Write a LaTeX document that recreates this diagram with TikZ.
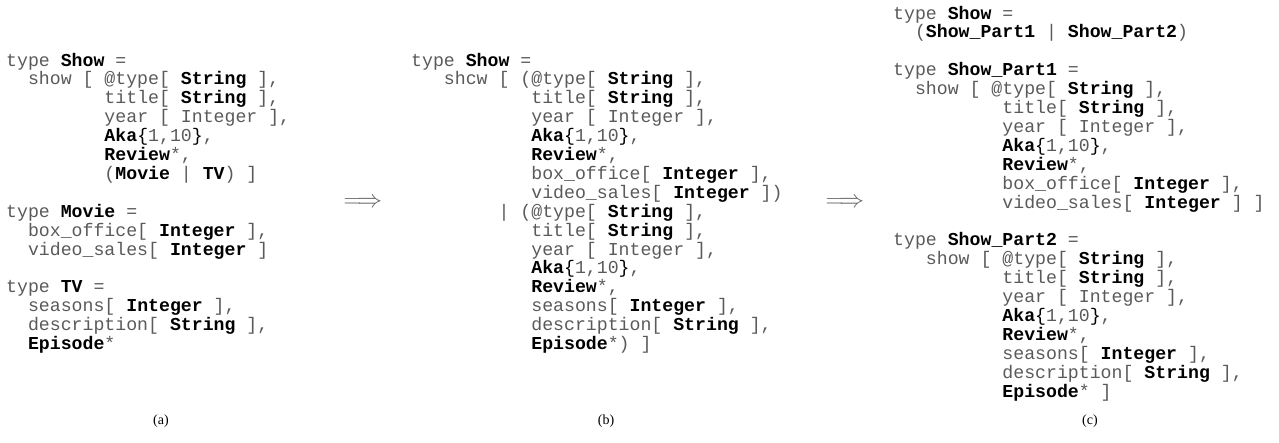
\documentclass[tikz,border=0pt]{standalone}
\usepackage{fontspec}
\setmainfont{Liberation Serif}
\setmonofont{Liberation Mono}
\usepackage{xcolor}

\definecolor{codegray}{HTML}{5A5A5A}
\newcommand{\kw}[1]{\textcolor{black}{\textbf{#1}}}
\newcommand{\br}[1]{\textcolor{black}{#1}}
\newcommand{\ind}[1]{\hspace*{#1\fontcharwd\font`x}}

\begin{document}
\begin{tikzpicture}[x=1pt,y=-1pt,
    code/.style={anchor=base west, inner sep=0pt, align=left, text=codegray,
      font=\ttfamily\fontsize{18.2}{18.9}\selectfont},
    caption/.style={inner sep=0pt, font=\fontsize{14}{16}\selectfont},
    trans/.style={inner sep=0pt, text=black!60, font=\fontsize{23}{24}\selectfont}]
  \useasboundingbox (0,0) rectangle (1279,442);

  % (a) original schema (base = last line)
  \node[code] (schemaA) at (6,349.5) {type \kw{Show} =\\
    \ind{2}show [ @type[ \kw{String} ],\\
    \ind{9}title[ \kw{String} ],\\
    \ind{9}year [ Integer ],\\
    \ind{9}\kw{Aka}\br{\{}1,10\br{\}},\\
    \ind{9}\kw{Review}*,\\
    \ind{9}(\kw{Movie} | \kw{TV}) ]\\
    \mbox{}\\
    type \kw{Movie} =\\
    \ind{2}box\_office[ \kw{Integer} ],\\
    \ind{2}video\_sales[ \kw{Integer} ]\\
    \mbox{}\\
    type \kw{TV} =\\
    \ind{2}seasons[ \kw{Integer} ],\\
    \ind{2}description[ \kw{String} ],\\
    \ind{2}\kw{Episode}*};

  % (b) union distributed
  \node[code] (schemaB) at (411,349.5) {type \kw{Show} =\\
    \ind{3}shcw [ (@type[ \kw{String} ],\\
    \ind{11}title[ \kw{String} ],\\
    \ind{11}year [ Integer ],\\
    \ind{11}\kw{Aka}\br{\{}1,10\br{\}},\\
    \ind{11}\kw{Review}*,\\
    \ind{11}box\_office[ \kw{Integer} ],\\
    \ind{11}video\_sales[ \kw{Integer} ])\\
    \ind{8}| (@type[ \kw{String} ],\\
    \ind{11}title[ \kw{String} ],\\
    \ind{11}year [ Integer ],\\
    \ind{11}\kw{Aka}\br{\{}1,10\br{\}},\\
    \ind{11}\kw{Review}*,\\
    \ind{11}seasons[ \kw{Integer} ],\\
    \ind{11}description[ \kw{String} ],\\
    \ind{11}\kw{Episode}*) ]};

  % (c) split into two types
  \node[code] (schemaC) at (893,397) {type \kw{Show} =\\
    \ind{2}(\kw{Show\_Part1} | \kw{Show\_Part2})\\
    \mbox{}\\
    type \kw{Show\_Part1} =\\
    \ind{2}show [ @type[ \kw{String} ],\\
    \ind{10}title[ \kw{String} ],\\
    \ind{10}year [ Integer ],\\
    \ind{10}\kw{Aka}\br{\{}1,10\br{\}},\\
    \ind{10}\kw{Review}*,\\
    \ind{10}box\_office[ \kw{Integer} ],\\
    \ind{10}video\_sales[ \kw{Integer} ] ]\\
    \mbox{}\\
    type \kw{Show\_Part2} =\\
    \ind{3}show [ @type[ \kw{String} ],\\
    \ind{10}title[ \kw{String} ],\\
    \ind{10}year [ Integer ],\\
    \ind{10}\kw{Aka}\br{\{}1,10\br{\}},\\
    \ind{10}\kw{Review}*,\\
    \ind{10}seasons[ \kw{Integer} ],\\
    \ind{10}description[ \kw{String} ],\\
    \ind{10}\kw{Episode}* ]};

  % rewriting steps
  \node[trans] (stepAB) at (363,203) {$\Longrightarrow$};
  \node[trans] (stepBC) at (845,203) {$\Longrightarrow$};

  % sub-captions
  \node[caption] (capA) at (161,421) {(a)};
  \node[caption] (capB) at (606,421) {(b)};
  \node[caption] (capC) at (1090,421) {(c)};
\end{tikzpicture}
\end{document}
